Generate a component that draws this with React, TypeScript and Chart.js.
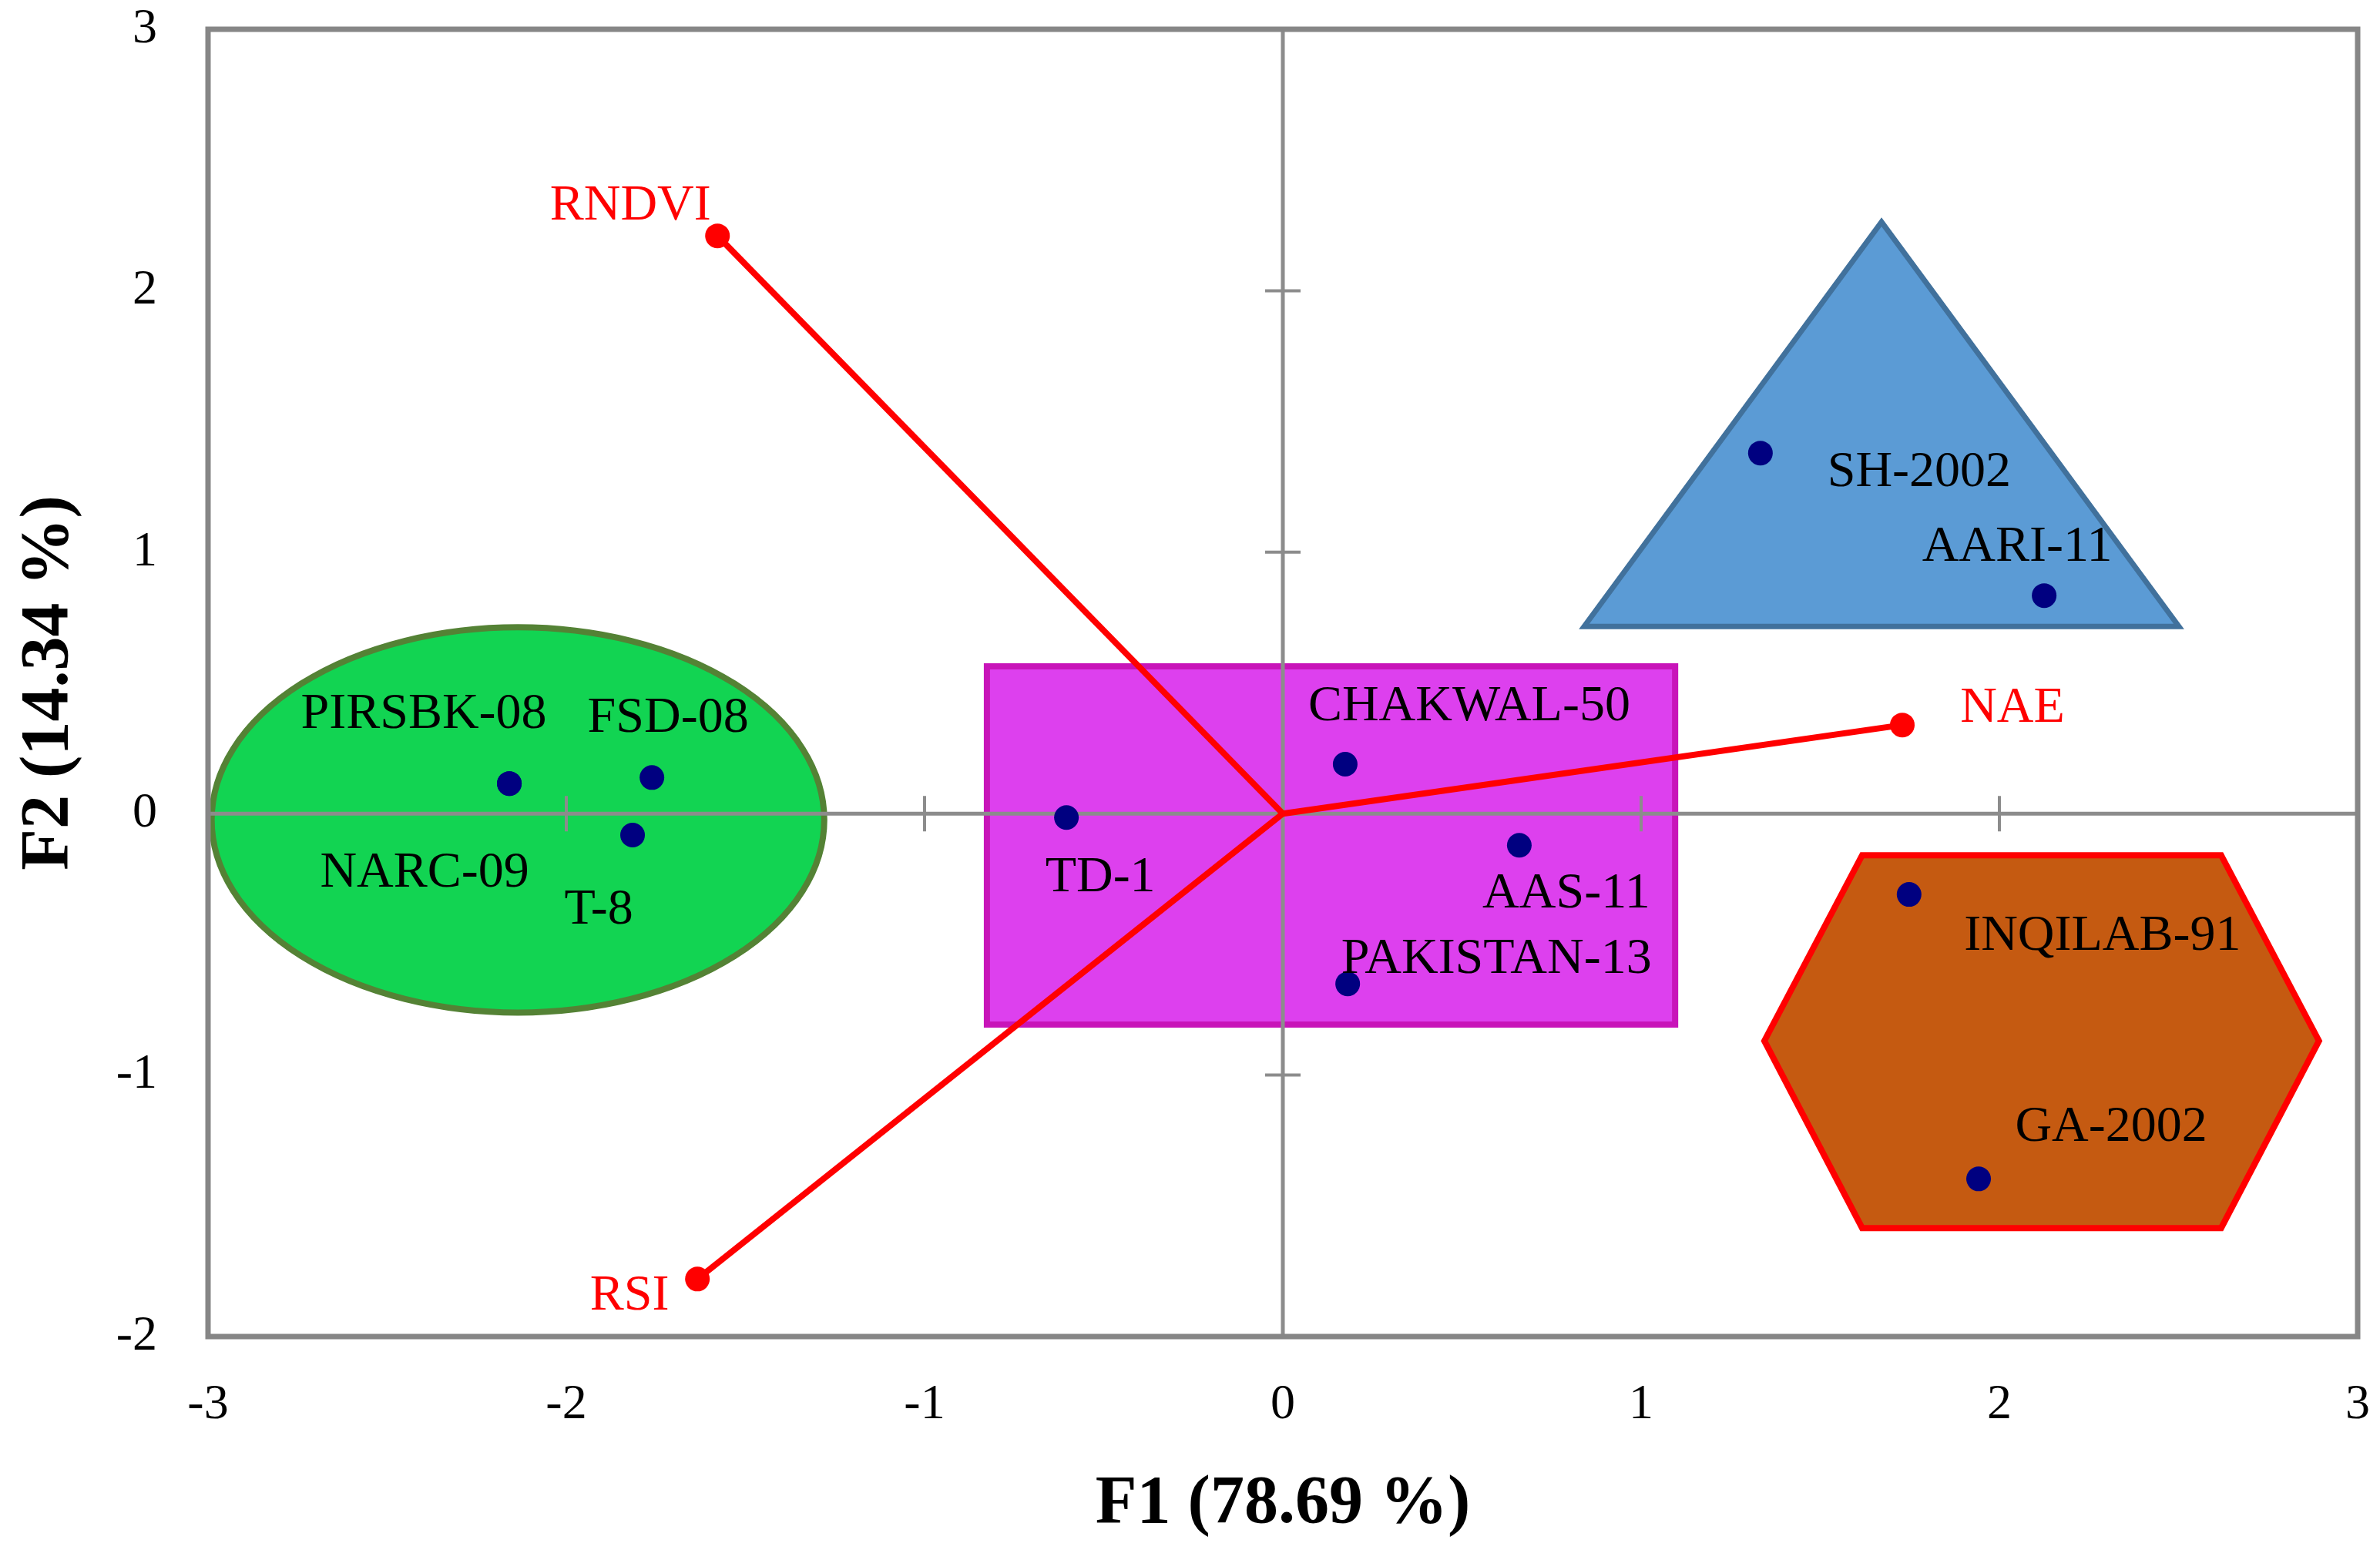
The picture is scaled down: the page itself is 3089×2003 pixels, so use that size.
import React, { useEffect, useRef } from "react";
import { Chart, registerables } from "chart.js";

Chart.register(...registerables);

// ---------- data ----------
const genotypes = [
  "PIRSBK-08", "NARC-09", "FSD-08", "T-8", "TD-1", "CHAKWAL-50",
  "AAS-11", "PAKISTAN-13", "SH-2002", "AARI-11", "INQILAB-91", "GA-2002",
];
const genoF1 = [-2.159, -2.159, -1.761, -1.815, -0.604, 0.174, 0.66, 0.181, 1.333, 2.125, 1.748, 1.942];
const genoF2 = [0.115, 0.115, 0.138, -0.082, -0.015, 0.189, -0.121, -0.651, 1.379, 0.834, -0.309, -1.397];

const variables = ["RNDVI", "NAE", "RSI"];
const varF1 = [-1.578, 1.729, -1.634];
const varF2 = [2.21, 0.339, -1.78];

const xTicks = [-3, -2, -1, 0, 1, 2, 3];
const yTicks = [-2, -1, 0, 1, 2, 3];

// group outlines (data units)
const ellipseCenter = [-2.135, -0.024];
const ellipseRadii = [0.855, 0.737];
const rectXs = [-0.826, 1.095];
const rectYs = [-0.807, 0.563];
const triangleXs = [1.671, 2.501, 0.841];
const triangleYs = [2.263, 0.716, 0.716];
const hexagonXs = [1.617, 2.619, 2.892, 2.619, 1.617, 1.344];
const hexagonYs = [-0.159, -0.159, -0.869, -1.585, -1.585, -0.869];

// label offsets in pixels (text centre relative to its point)
const genoLabelDx = [-111, -110, 21, -44, 44, 161, 61, 193, 206, -35, 251, 172];
const genoLabelDy = [-89, 117, -77, 98, 78, -74, 63, -31, 26, -62, 55, -67];
const varLabelDx = [-113, 143, -88];
const varLabelDy = [-38, -21, 22];

const FONT = '"Liberation Serif", "Times New Roman", serif';

const overlayPlugin = {
  id: "overlay",
  beforeDatasetsDraw(chart: any) {
    const { ctx, chartArea } = chart;
    const xs = chart.scales.x;
    const ys = chart.scales.y;
    const px = (v: number) => xs.getPixelForValue(v);
    const py = (v: number) => ys.getPixelForValue(v);
    ctx.save();
    ctx.lineJoin = "miter";

    // ellipse (green)
    ctx.beginPath();
    ctx.ellipse(
      px(ellipseCenter[0]), py(ellipseCenter[1]),
      Math.abs(px(ellipseCenter[0] + ellipseRadii[0]) - px(ellipseCenter[0])),
      Math.abs(py(ellipseCenter[1] + ellipseRadii[1]) - py(ellipseCenter[1])),
      0, 0, Math.PI * 2
    );
    ctx.fillStyle = "#12D452";
    ctx.fill();
    ctx.lineWidth = 8;
    ctx.strokeStyle = "#548235";
    ctx.stroke();

    const poly = (xsA: number[], ysA: number[], fill: string, stroke: string, lw: number) => {
      ctx.beginPath();
      xsA.forEach((xv, i) => {
        if (i === 0) ctx.moveTo(px(xv), py(ysA[i]));
        else ctx.lineTo(px(xv), py(ysA[i]));
      });
      ctx.closePath();
      ctx.fillStyle = fill;
      ctx.fill();
      ctx.lineWidth = lw;
      ctx.strokeStyle = stroke;
      ctx.stroke();
    };

    // rectangle (magenta)
    poly(
      [rectXs[0], rectXs[1], rectXs[1], rectXs[0]],
      [rectYs[1], rectYs[1], rectYs[0], rectYs[0]],
      "#DD40EE", "#C814B9", 8
    );
    // triangle (blue)
    poly(triangleXs, triangleYs, "#5B9BD5", "#41719C", 7);
    // hexagon (brown)
    poly(hexagonXs, hexagonYs, "#C55A11", "#FF0000", 8);

    // centre axes
    ctx.strokeStyle = "#8C8C8C";
    ctx.lineWidth = 5;
    ctx.beginPath();
    ctx.moveTo(px(0), chartArea.top);
    ctx.lineTo(px(0), chartArea.bottom);
    ctx.moveTo(chartArea.left, py(0));
    ctx.lineTo(chartArea.right, py(0));
    ctx.stroke();

    // cross ticks
    ctx.lineWidth = 4;
    ctx.beginPath();
    xTicks.forEach((v) => {
      if (v === 0) return;
      ctx.moveTo(px(v), py(0) - 23);
      ctx.lineTo(px(v), py(0) + 23);
    });
    yTicks.forEach((v) => {
      if (v === 0) return;
      ctx.moveTo(px(0) - 23, py(v));
      ctx.lineTo(px(0) + 23, py(v));
    });
    ctx.stroke();
    ctx.restore();
  },
  afterDatasetsDraw(chart: any) {
    const { ctx } = chart;
    const xs = chart.scales.x;
    const ys = chart.scales.y;
    ctx.save();
    ctx.textAlign = "center";
    ctx.textBaseline = "middle";
    ctx.font = `66px ${FONT}`;
    ctx.fillStyle = "#000000";
    genotypes.forEach((name, i) => {
      ctx.fillText(
        name,
        xs.getPixelForValue(genoF1[i]) + genoLabelDx[i],
        ys.getPixelForValue(genoF2[i]) + genoLabelDy[i]
      );
    });
    ctx.fillStyle = "#FF0000";
    variables.forEach((name, i) => {
      ctx.fillText(
        name,
        xs.getPixelForValue(varF1[i]) + varLabelDx[i],
        ys.getPixelForValue(varF2[i]) + varLabelDy[i]
      );
    });
    ctx.restore();
  },
  afterDraw(chart: any) {
    const { ctx, chartArea } = chart;
    ctx.save();
    ctx.strokeStyle = "#868686";
    ctx.lineWidth = 7;
    ctx.strokeRect(
      chartArea.left, chartArea.top,
      chartArea.right - chartArea.left, chartArea.bottom - chartArea.top
    );
    ctx.restore();
  },
};

const zeroPad = (s: any) => {
  s.paddingTop = 0;
  s.paddingBottom = 0;
  s.paddingLeft = 0;
  s.paddingRight = 0;
};

export default function App() {
  const ref = useRef<HTMLCanvasElement | null>(null);

  useEffect(() => {
    if (!ref.current) return;
    const pointData = genotypes.map((_, i) => ({ x: genoF1[i], y: genoF2[i] }));
    const vectorSets = variables.map((name, i) => ({
      label: name,
      data: [{ x: 0, y: 0 }, { x: varF1[i], y: varF2[i] }],
      showLine: true,
      borderColor: "#FF0000",
      borderWidth: 8,
      backgroundColor: "#FF0000",
      pointRadius: [0, 16],
      pointHoverRadius: [0, 16],
      pointBorderWidth: 0,
      pointBackgroundColor: "#FF0000",
    }));

    const chart = new Chart(ref.current, {
      type: "scatter",
      data: {
        datasets: [
          {
            label: "Genotypes",
            data: pointData,
            pointRadius: 16,
            pointBorderWidth: 0,
            pointBackgroundColor: "#000080",
            backgroundColor: "#000080",
          },
          ...vectorSets,
        ] as any,
      },
      options: {
        responsive: false,
        animation: false,
        devicePixelRatio: 1,
        layout: { padding: { top: 38, right: 29, left: 0, bottom: 0 } },
        plugins: {
          legend: { display: false },
          tooltip: { enabled: false },
        },
        scales: {
          x: {
            type: "linear",
            min: -3,
            max: 3,
            afterBuildTicks: (s: any) => {
              s.ticks = xTicks.map((v) => ({ value: v }));
            },
            afterFit: (s: any) => {
              s.height = 268;
              zeroPad(s);
            },
            ticks: {
              font: { size: 64, family: FONT },
              color: "#000000",
              padding: 51,
              maxRotation: 0,
              autoSkip: false,
            },
            grid: { display: false, drawTicks: false },
            border: { display: false },
            title: {
              display: true,
              text: "F1 (78.69 %)",
              font: { size: 88, weight: "bold", family: FONT },
              color: "#000000",
              padding: { top: 0, bottom: -3 },
            },
          },
          y: {
            type: "linear",
            min: -2,
            max: 3,
            afterBuildTicks: (s: any) => {
              s.ticks = yTicks.map((v) => ({ value: v }));
            },
            afterFit: (s: any) => {
              s.width = 270;
              zeroPad(s);
            },
            ticks: {
              font: { size: 64, family: FONT },
              color: "#000000",
              padding: 66,
              autoSkip: false,
            },
            grid: { display: false, drawTicks: false },
            border: { display: false },
            title: {
              display: true,
              text: "F2 (14.34 %)",
              font: { size: 88, weight: "bold", family: FONT },
              color: "#000000",
              padding: { top: 11, bottom: 0 },
            },
          },
        },
      } as any,
      plugins: [overlayPlugin],
    });
    return () => chart.destroy();
  }, []);

  return (
    <canvas
      ref={ref}
      width={3089}
      height={2003}
      style={{ position: "absolute", left: 0, top: 0, width: 3089, height: 2003 }}
    />
  );
}
